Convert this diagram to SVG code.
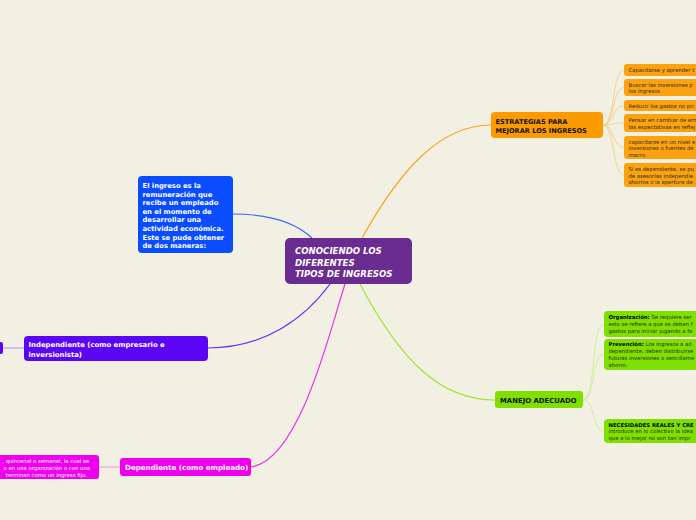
<svg xmlns="http://www.w3.org/2000/svg" width="696" height="520" viewBox="0 0 696 520">
<style>
text{font-family:"DejaVu Sans","Verdana",sans-serif}
.w{fill:#fff;font-weight:bold}
.k{fill:#111;font-weight:bold}
.s{fill:#2a2a2a;font-size:5.3px}
.b{font-weight:bold;fill:#000}
.e{fill:none;stroke-width:1.2}
.c{fill:none;stroke-width:0.8}
</style>
<rect width="696" height="520" fill="#f2efe3"/>
<g id="connectors">
<path class="e" stroke="#3b6cf6" d="M233,214 C270,214 295,222 312,238"/>
<path class="e" stroke="#6a2ff0" d="M208,348 C265,348 305,318 330,284"/>
<path class="e" stroke="#e535e5" d="M251,467 C300,460 330,330 345,284"/>
<path class="e" stroke="#f5a623" d="M362,238 C400,170 440,125 491,125"/>
<path class="e" stroke="#9fe52e" d="M360,284 C400,360 440,400 495,400"/>
<path class="c" stroke="#9a80f0" d="M3,348 L24,348"/>
<path class="c" stroke="#e880e8" d="M99,467 L120,467"/>
<g stroke="#f8c978">
<path class="c" d="M603,125 C615,125 612,70 624,70"/>
<path class="c" d="M603,125 C615,125 612,87.5 624,87.5"/>
<path class="c" d="M603,125 C615,125 612,105.5 624,105.5"/>
<path class="c" d="M603,125 C615,125 612,123 624,123"/>
<path class="c" d="M603,125 C615,125 612,147.5 624,147.5"/>
<path class="c" d="M603,125 C615,125 612,175 624,175"/>
</g>
<g stroke="#c6ee8a">
<path class="c" d="M583,400 C596,400 591,324 604,324"/>
<path class="c" d="M583,400 C596,400 591,354 604,354"/>
<path class="c" d="M583,400 C596,400 591,431 604,431"/>
</g>
</g>
<g id="central">
<rect x="285" y="238" width="127" height="46" rx="5" fill="#6a2c91"/>
<text class="w" font-size="8.6" font-style="italic"><tspan x="295" y="254">CONOCIENDO LOS</tspan><tspan x="295" y="265.5">DIFERENTES</tspan><tspan x="295" y="277">TIPOS DE INGRESOS</tspan></text>
</g>
<g id="definicion">
<rect x="138" y="176" width="95" height="77" rx="4" fill="#0a4cff"/>
<text class="w" font-size="6.8"><tspan x="142.5" y="188">El ingreso es la</tspan><tspan x="142.5" y="196.6">remuneración que</tspan><tspan x="142.5" y="205.2">recibe un empleado</tspan><tspan x="142.5" y="213.8">en el momento de</tspan><tspan x="142.5" y="222.4">desarrollar una</tspan><tspan x="142.5" y="231">actividad económica.</tspan><tspan x="142.5" y="239.6">Este se pude obtener</tspan><tspan x="142.5" y="248.2">de dos maneras:</tspan></text>
</g>
<g id="independiente">
<rect x="24" y="336" width="184" height="25" rx="4" fill="#5b06f2"/>
<text class="w" font-size="6.9"><tspan x="28.5" y="347">Independiente (como empresario e</tspan><tspan x="28.5" y="356.5">inversionista)</tspan></text>
</g>
<g id="independiente-detalle">
<rect x="-5" y="342" width="8" height="12" rx="2" fill="#5b06f2"/>
</g>
<g id="dependiente">
<rect x="120" y="458" width="131" height="18" rx="3" fill="#ee00ee"/>
<text class="w" font-size="7.1" x="125" y="470">Dependiente (como empleado)</text>
</g>
<g id="dependiente-detalle">
<rect x="-5" y="455" width="104" height="24" rx="3" fill="#ee00ee"/>
<text fill="#fff" font-size="5.3" text-anchor="end"><tspan x="89" y="463">, quincenal o semanal, la cual se</tspan><tspan x="90" y="470">o en una organización o con una</tspan><tspan x="87" y="477">terminan como un ingreso fijo.</tspan></text>
</g>
<g id="estrategias">
<rect x="491" y="112" width="112" height="26" rx="4" fill="#fb9b00"/>
<text class="k" font-size="6.6"><tspan x="495.5" y="123.5">ESTRATEGIAS PARA</tspan><tspan x="495.5" y="132.5">MEJORAR LOS INGRESOS</tspan></text>
</g>
<g id="e1"><rect x="624" y="64" width="80" height="12" rx="3" fill="#fca20f"/><text class="s" x="628.5" y="72">Capacitarse y aprender t</text></g>
<g id="e2"><rect x="624" y="79" width="80" height="17" rx="3" fill="#fca20f"/><text class="s"><tspan x="628.5" y="86.5">Buscar las inversiones p</tspan><tspan x="628.5" y="93">los ingresos</tspan></text></g>
<g id="e3"><rect x="624" y="100" width="80" height="11" rx="3" fill="#fca20f"/><text class="s" x="628.5" y="107.5">Reducir los gastos no pri</text></g>
<g id="e4"><rect x="624" y="114" width="80" height="18" rx="3" fill="#fca20f"/><text class="s"><tspan x="628.5" y="121.5">Pensar en cambiar de em</tspan><tspan x="628.5" y="128.5">las expectativas en reflej</tspan></text></g>
<g id="e5"><rect x="624" y="136" width="80" height="23" rx="3" fill="#fca20f"/><text class="s"><tspan x="628.5" y="143.5">capacitarse en un nivel e</tspan><tspan x="628.5" y="150">inversiones o fuentes de</tspan><tspan x="628.5" y="156.5">macro.</tspan></text></g>
<g id="e6"><rect x="624" y="163" width="80" height="24" rx="3" fill="#fca20f"/><text class="s"><tspan x="628.5" y="171">Si es dependiente, se pu</tspan><tspan x="628.5" y="177.5">de asesorías independie</tspan><tspan x="628.5" y="184">ahorros o la apertura de</tspan></text></g>
<g id="manejo">
<rect x="495" y="391" width="88" height="17" rx="3" fill="#7fe000"/>
<text class="k" font-size="6.9" x="500" y="402.5">MANEJO ADECUADO</text>
</g>
<g id="m1"><rect x="604" y="311" width="100" height="26" rx="4" fill="#7fe000"/><text class="s"><tspan x="608.5" y="318.5"><tspan class="b">Organización:</tspan> Se requiere ser</tspan><tspan x="608.5" y="325.5">esto se refiere a que se deben f</tspan><tspan x="608.5" y="332.5">gastos para iniciar jugando a fa</tspan></text></g>
<g id="m2"><rect x="604" y="339" width="100" height="31" rx="4" fill="#7fe000"/><text class="s"><tspan x="608.5" y="346"><tspan class="b">Prevención:</tspan> Los ingresos a ad</tspan><tspan x="608.5" y="353">dependiente, deben distribuirse</tspan><tspan x="608.5" y="360">futuras inversiones o sencillame</tspan><tspan x="608.5" y="366.5">ahorro.</tspan></text></g>
<g id="m3"><rect x="604" y="419" width="100" height="24" rx="4" fill="#7fe000"/><text class="s"><tspan x="608.5" y="426.5" class="b">NECESIDADES REALES Y CRE</tspan><tspan x="608.5" y="433">introduce en lo colectivo la idea</tspan><tspan x="608.5" y="440">que a lo mejor no son tan impr</tspan></text></g>
</svg>
